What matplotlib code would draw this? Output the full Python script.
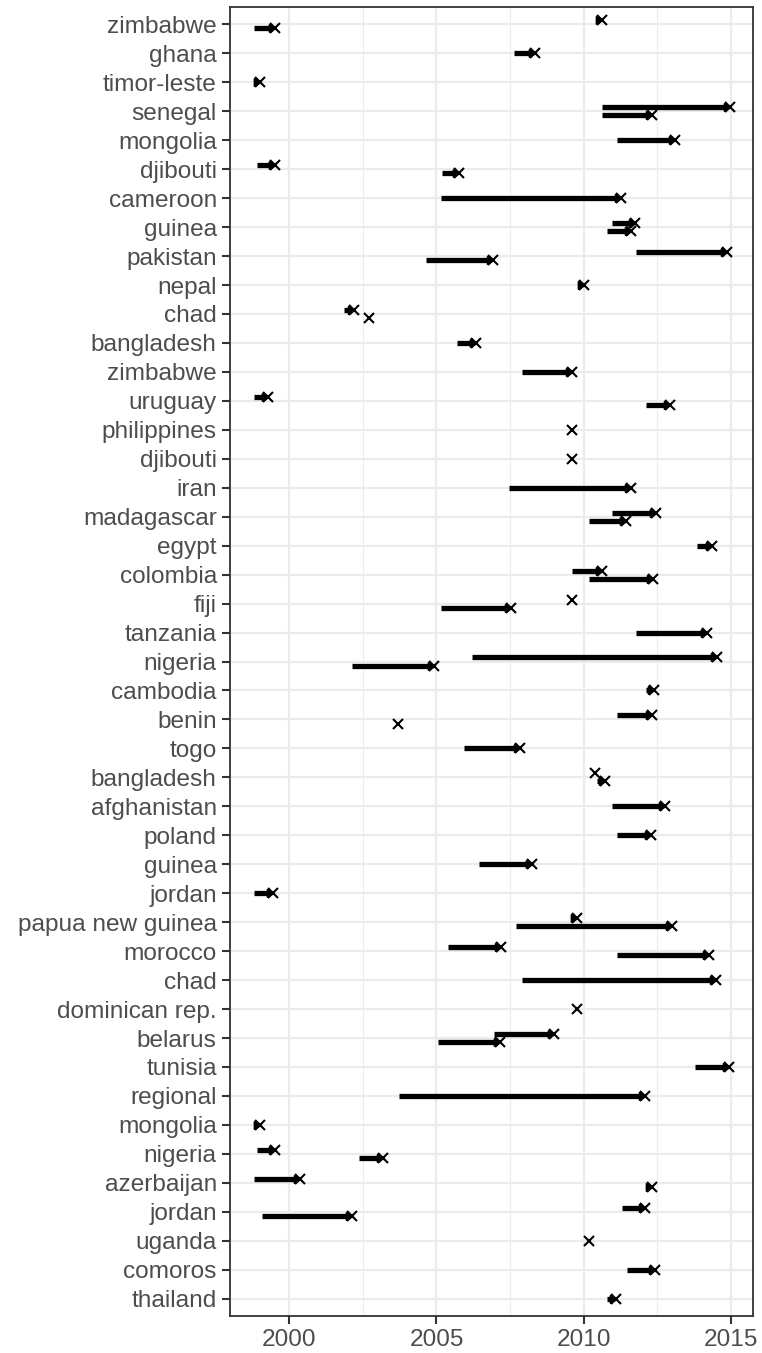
import matplotlib
matplotlib.use("Agg")
import matplotlib.pyplot as plt
from matplotlib.path import Path

plt.rcParams['font.family'] = ['Liberation Sans', 'DejaVu Sans']

# Row labels, top to bottom
rows = ["zimbabwe", "ghana", "timor-leste", "senegal", "mongolia", "djibouti",
        "cameroon", "guinea", "pakistan", "nepal", "chad", "bangladesh",
        "zimbabwe", "uruguay", "philippines", "djibouti", "iran", "madagascar",
        "egypt", "colombia", "fiji", "tanzania", "nigeria", "cambodia", "benin",
        "togo", "bangladesh", "afghanistan", "poland", "guinea", "jordan",
        "papua new guinea", "morocco", "chad", "dominican rep.", "belarus",
        "tunisia", "regional", "mongolia", "nigeria", "azerbaijan", "jordan",
        "uganda", "comoros", "thailand"]

# One entry per episode: row index, start year, end year
entry_row = [0, 0, 1, 2, 3, 3, 4, 5, 5, 6, 7, 7, 8, 8, 9, 10, 10, 11, 12,
             13, 13, 14, 15, 16, 17, 17, 18, 19, 19, 20, 20, 21, 22, 22, 23,
             24, 24, 25, 26, 26, 27, 28, 29, 30, 31, 31, 32, 32, 33, 34, 35,
             35, 36, 37, 38, 39, 39, 40, 40, 41, 41, 42, 43, 44]
entry_start = [2010.50, 1998.79, 2007.62, 1998.85, 2010.62, 2010.62, 2011.13,
               1998.89, 2005.20, 2005.14, 2010.97, 2010.80, 2011.79, 2004.63,
               2009.90, 2001.87, 2002.70, 2005.71, 2007.89, 1998.79, 2012.13,
               2009.59, 2009.59, 2007.45, 2010.97, 2010.20, 2013.87, 2009.62,
               2010.20, 2009.59, 2005.14, 2011.79, 2006.21, 2002.14, 2012.13,
               2011.13, 2003.69, 2005.95, 2010.40, 2010.46, 2010.97, 2011.13,
               2006.45, 1998.79, 2009.64, 2007.71, 2005.38, 2011.13, 2007.89,
               2009.76, 2006.96, 2005.04, 2013.79, 2003.71, 1998.81, 1998.89,
               2002.38, 1998.79, 2012.18, 2011.31, 1999.06, 2010.20, 2011.47,
               2010.80]
entry_end = [2010.61, 1999.52, 2008.35, 1999.01, 2014.96, 2012.34, 2013.12,
             1999.52, 2005.77, 2011.27, 2011.76, 2011.61, 2014.88, 2006.92,
             2010.02, 2002.18, 2002.70, 2006.35, 2009.59, 1999.27, 2012.94,
             2009.59, 2009.59, 2011.61, 2012.46, 2011.43, 2014.37, 2010.61,
             2012.36, 2009.59, 2007.52, 2014.18, 2014.52, 2004.92, 2012.40,
             2012.34, 2003.69, 2007.84, 2010.40, 2010.74, 2012.76, 2012.28,
             2008.26, 1999.43, 2009.76, 2013.00, 2007.20, 2014.27, 2014.49,
             2009.76, 2009.01, 2007.17, 2014.94, 2012.10, 1999.01, 1999.52,
             2003.17, 2000.36, 2012.34, 2012.10, 2002.12, 2010.20, 2012.44,
             2011.09]

x_ticks = [2000, 2005, 2010, 2015]
x_minor = [2002.5, 2007.5, 2012.5]

# dodge entries that share a row
counts = {}
for r in entry_row:
    counts[r] = counts.get(r, 0) + 1
seen = {}
dodge = 0.14
y_pos = []
for r in entry_row:
    k = seen.get(r, 0)
    seen[r] = k + 1
    n = counts[r]
    off = 0.0 if n == 1 else (-dodge + 2 * dodge * k / (n - 1))
    y_pos.append(r + off)

DPI = 100
fig = plt.figure(figsize=(7.62, 13.53), dpi=DPI)
ax_left, ax_right = 0.3018, 0.9886
ax = fig.add_axes([ax_left, 0.0273, ax_right - ax_left, 0.99483 - 0.0273])

lo = min(entry_start + entry_end)
hi = max(entry_start + entry_end)
pad = 0.05 * (hi - lo)
x0, x1 = lo - pad, hi + pad
ax.set_xlim(x0, x1)
ax.set_ylim(len(rows) - 1 + 0.6, -0.6)

# grid
grid_col = "#EBEBEB"
for yv in range(len(rows)):
    ax.axhline(yv, color=grid_col, lw=1.6, zorder=0)
for xv in x_ticks:
    ax.axvline(xv, color=grid_col, lw=1.6, zorder=0)
for xv in x_minor:
    ax.axvline(xv, color=grid_col, lw=0.8, zorder=0)

# arrow head marker: tip at the origin, pointing right
head = Path([(0, 0), (-1, 0.6), (-1, -0.6), (0, 0)],
            [Path.MOVETO, Path.LINETO, Path.LINETO, Path.CLOSEPOLY])
head_ms = 8.5
head_len_pt = head_ms * 0.5
years_per_px = (x1 - x0) / ((ax_right - ax_left) * 7.62 * DPI)
back = 0.6 * head_len_pt * DPI / 72 * years_per_px

for s, e, y in zip(entry_start, entry_end, y_pos):
    if e > s:
        stop = e - back
        if stop > s:
            ax.plot([s, stop], [y, y], color="black", lw=3.8,
                    solid_capstyle="butt", zorder=2)
        ax.plot([e], [y], marker=head, markersize=head_ms, color="black",
                markeredgewidth=1.4, markeredgecolor="black",
                linestyle="none", zorder=2)
ax.plot(entry_end, y_pos, linestyle="none", marker="x", color="black",
        markersize=6.8, markeredgewidth=1.5, zorder=3)

ax.set_yticks(range(len(rows)))
ax.set_yticklabels(rows)
ax.set_xticks(x_ticks)
ax.set_xticklabels([str(v) for v in x_ticks])
ax.tick_params(axis="both", which="major", length=5.5, width=1.5,
               color="#333333", labelcolor="#4D4D4D", labelsize=17.6, pad=4)
for sp in ax.spines.values():
    sp.set_color("#333333")
    sp.set_linewidth(1.3)

fig.savefig("out.png", dpi=DPI)
